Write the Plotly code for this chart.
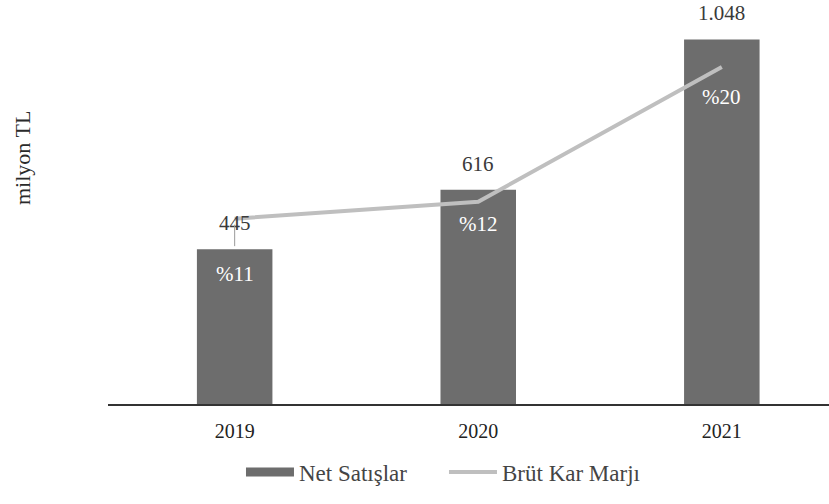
import plotly.graph_objects as go

years = ["2019", "2020", "2021"]
net_sales = [445, 616, 1048]
net_sales_labels = ["445", "616", "1.048"]
gross_margin = [11, 12, 20]
gross_margin_labels = ["%11", "%12", "%20"]

SERIF = "'Liberation Serif', 'Times New Roman', serif"
BAR_COLOR = "#6d6d6d"
LINE_COLOR = "#bfbfbf"

L, T, B = 108, 12, 100
PH = 504 - T - B
BASE = T + PH

fig = go.Figure()
fig.add_trace(go.Bar(
    x=years, y=net_sales, name="Net Satışlar", showlegend=False,
    marker=dict(color=BAR_COLOR, line=dict(width=0)),
    width=0.31, yaxis="y",
))
# legend entry for bars drawn as a wide bar-coloured swatch
fig.add_trace(go.Scatter(
    x=[None], y=[None], name="Net Satışlar", mode="lines",
    line=dict(color=BAR_COLOR, width=9), yaxis="y",
))
fig.add_trace(go.Scatter(
    x=years, y=gross_margin, name="Brüt Kar Marjı", mode="lines",
    line=dict(color=LINE_COLOR, width=4), yaxis="y2",
))

# value labels above bars
for i, (v, t) in enumerate(zip(net_sales, net_sales_labels)):
    fig.add_annotation(x=i, y=v, xref="x", yref="y", text=t, showarrow=False,
                       yshift=26, font=dict(family=SERIF, size=21, color="#3a3a3a"))

# margin labels inside bars
shifts = [55, 22, 30]
for i, (m, t) in enumerate(zip(gross_margin, gross_margin_labels)):
    if i == 0:
        fig.add_annotation(x=i, y=m, xref="x", yref="y2", text=t, showarrow=True,
                           ax=0, ay=shifts[i], arrowhead=0, arrowwidth=1,
                           arrowcolor="#9a9a9a", standoff=6, startstandoff=14,
                           font=dict(family=SERIF, size=21, color="white"))
    else:
        fig.add_annotation(x=i, y=m, xref="x", yref="y2", text=t, showarrow=False,
                           yshift=-shifts[i],
                           font=dict(family=SERIF, size=21, color="white"))

fig.add_annotation(xref="paper", yref="paper", x=(22 - L) / 721, y=(BASE - 158) / PH,
                   text="milyon TL", textangle=-90, showarrow=False,
                   xanchor="center", yanchor="middle",
                   font=dict(family=SERIF, size=22, color="#2a2a2a"))

fig.update_layout(
    width=829, height=504,
    margin=dict(l=L, r=0, t=T, b=B),
    paper_bgcolor="white", plot_bgcolor="white",
    font=dict(family=SERIF, size=17, color="#222"),
    bargap=0.69,
    xaxis=dict(type="category", range=[-0.52, 2.44], showline=True, linecolor="#333",
               linewidth=1.5, ticks="", ticklabelstandoff=8,
               tickfont=dict(family=SERIF, size=20, color="#222"),
               showgrid=False, zeroline=False),
    yaxis=dict(range=[0, PH * 2.875], showticklabels=False, showgrid=False,
               zeroline=False, showline=False),
    yaxis2=dict(range=[0, PH / 16.85], overlaying="y", side="right", showticklabels=False,
                showgrid=False, zeroline=False, showline=False),
    showlegend=True,
    legend=dict(orientation="h", x=0.466, y=(BASE - 472) / PH, xanchor="center",
                yanchor="middle",
                font=dict(family=SERIF, size=23, color="#444"), itemwidth=48,
                entrywidth=140, entrywidthmode="pixels",
                traceorder="normal"),
)

fig.write_html("out.html", config={"displayModeBar": False},
               post_script="document.body.style.margin='0';")
